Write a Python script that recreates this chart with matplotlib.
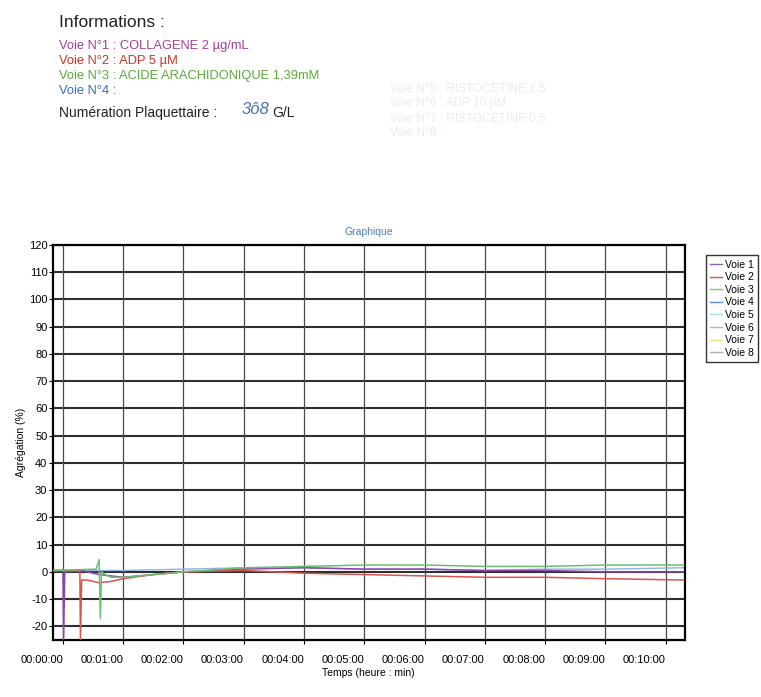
import matplotlib
matplotlib.use("Agg")
import matplotlib.pyplot as plt
from matplotlib.ticker import FixedLocator, FuncFormatter

plt.rcParams["font.family"] = ["Liberation Sans", "DejaVu Sans"]
plt.rcParams["axes.unicode_minus"] = False

# --- informations reagents ---
INFO_LINES = [
    "Voie N°1 : COLLAGENE 2 µg/mL",
    "Voie N°2 : ADP 5 µM",
    "Voie N°3 : ACIDE ARACHIDONIQUE 1,39mM",
    "Voie N°4 :",
]
INFO_COLORS = ["#a0409a", "#c0392b", "#5ca83a", "#3a6fb5"]
FAINT_LINES = [
    "Voie N°5 : RISTOCETINE 1,5",
    "Voie N°6 : ADP 10 µM",
    "Voie N°7 : RISTOCETINE 0,5",
    "Voie N°8 :",
]

# --- courbes d'agregation (temps en minutes, agregation en %) ---
t1 = [-0.15, -0.02, 0.0, 0.01, 0.03, 0.3, 0.6, 1.0, 1.5, 2.0, 3.0, 4.0, 5.0, 6.0, 7.0, 8.0, 9.0, 10.3]
v1 = [0.5, 0.5, 0.8, -25, 0.0, 0.5, -1.0, -2.0, -1.0, 0.0, 1.0, 1.5, 1.0, 1.0, 0.5, 0.5, 0.0, 0.0]

t2 = [-0.15, 0.25, 0.28, 0.29, 0.31, 0.4, 0.6, 0.8, 1.0, 1.5, 2.0, 3.0, 4.0, 5.0, 6.0, 7.0, 8.0, 9.0, 10.3]
v2 = [0.5, 0.5, 0.5, -25, -3.0, -3.0, -4.0, -3.5, -2.5, -1.0, 0.0, 0.5, -0.5, -1.0, -1.5, -2.0, -2.0, -2.5, -3.0]

t3 = [-0.15, 0.55, 0.6, 0.62, 0.64, 0.7, 0.8, 1.0, 1.5, 2.0, 3.0, 4.0, 5.0, 6.0, 7.0, 8.0, 9.0, 10.3]
v3 = [0.5, 1.0, 4.5, -17, 0.0, -1.0, -2.0, -2.0, -1.0, 0.0, 1.5, 2.0, 2.5, 2.5, 2.0, 2.0, 2.5, 2.5]

t4 = [-0.15, 1.0, 2.0, 3.0, 4.0, 5.0, 6.0, 7.0, 8.0, 9.0, 10.3]
v4 = [0.5, 0.5, 1.0, 1.5, 1.5, 1.0, 1.0, 0.5, 1.0, 1.0, 1.5]

LEGEND_LABELS = ["Voie 1", "Voie 2", "Voie 3", "Voie 4", "Voie 5", "Voie 6", "Voie 7", "Voie 8"]
LEGEND_COLORS = ["#9b59b6", "#e74c3c", "#7fc97f", "#5b8fd0", "#9fe0e8", "#e89ad0", "#e8e08a", "#b0b0b0"]

Y_TICKS = list(range(-20, 121, 10))
X_TICKS = list(range(0, 11))


fig = plt.figure(figsize=(7.61, 6.97), dpi=100)
fig.patch.set_facecolor("white")

# en-tete
fig.text(0.078, 0.978, "Informations :", fontsize=12.5, va="top", color="#222222")
for i, (line, col) in enumerate(zip(INFO_LINES, INFO_COLORS)):
    fig.text(0.078, 0.942 - i * 0.0215, line, fontsize=9.3, va="top", color=col)
for i, line in enumerate(FAINT_LINES):
    fig.text(0.512, 0.882 - i * 0.0215, line, fontsize=8.6, va="top", color="#ebebeb")
fig.text(0.078, 0.848, "Numération Plaquettaire :", fontsize=10, va="top", color="#222222")
fig.text(0.318, 0.854, "3ô8", fontsize=12, va="top", color="#4a6fb0", style="italic")
fig.text(0.358, 0.848, "G/L", fontsize=10, va="top", color="#222222")

ax = fig.add_axes([0.0696, 0.0818, 0.830, 0.567])
ax.set_xlim(-0.166, 10.315)
ax.set_ylim(-25, 120)

# grille
for y in Y_TICKS:
    ax.axhline(y, color="#2e2e2e", lw=1.5, zorder=1)
for x in X_TICKS:
    ax.axvline(x, color="#4a4a4a", lw=0.9, zorder=1)

ax.plot(t4, v4, color="#8fb4e0", lw=1.0, zorder=2)
ax.plot(t1, v1, color="#8e44ad", lw=1.1, zorder=3)
ax.plot(t2, v2, color="#d9534f", lw=1.1, zorder=3)
ax.plot(t3, v3, color="#6cc070", lw=1.1, zorder=3)

ax.yaxis.set_major_locator(FixedLocator(Y_TICKS))
ax.xaxis.set_major_locator(FixedLocator(X_TICKS))
ax.xaxis.set_major_formatter(FuncFormatter(lambda v, p: "00:%02d:00" % int(round(v))))
ax.tick_params(axis="y", labelsize=8, length=3, pad=1)
ax.tick_params(axis="x", labelsize=8, length=3, pad=8)
for lab in ax.get_xticklabels():
    lab.set_horizontalalignment("right")
for s in ax.spines.values():
    s.set_color("black")
    s.set_linewidth(1.6)

ax.set_title("Graphique", fontsize=7.5, color="#4a7fc0", pad=7)
ax.set_ylabel("Agrégation (%)", fontsize=7.5, labelpad=2)
ax.set_xlabel("Temps (heure : min)", fontsize=7.5, labelpad=2)

handles = [plt.Line2D([], [], color=c, lw=1.0) for c in LEGEND_COLORS]
leg = fig.legend(handles, LEGEND_LABELS, loc="upper left", bbox_to_anchor=(0.921, 0.641),
                 fontsize=7.5, handlelength=1.1, handletextpad=0.3, labelspacing=0.25,
                 borderpad=0.4, frameon=True, fancybox=False)
leg.get_frame().set_edgecolor("black")
leg.get_frame().set_linewidth(1.0)

fig.savefig("out.png", dpi=100, facecolor="white")
